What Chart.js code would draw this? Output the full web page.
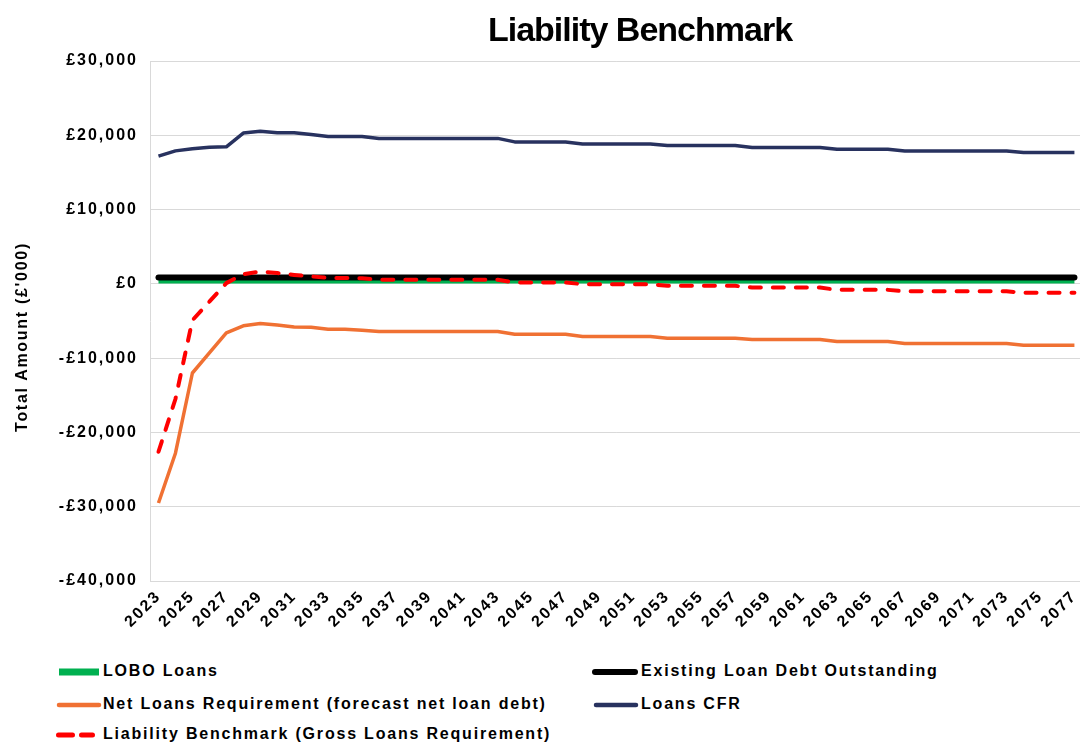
<!DOCTYPE html>
<html><head><meta charset="utf-8">
<script src="https://cdn.jsdelivr.net/npm/chart.js@4.4.1/dist/chart.umd.min.js"></script>
<style>
html,body{margin:0;padding:0;background:#fff;overflow:hidden;width:1080px;height:742px;}
#wrap{position:absolute;left:0;top:0;width:1094px;height:640px;}
#title{position:absolute;left:340px;width:600px;top:12px;text-align:center;font:bold 34px "Liberation Sans",Arial,sans-serif;letter-spacing:-1px;line-height:34px;color:#000;white-space:nowrap;}
#ytitle{position:absolute;left:22px;top:337px;width:260px;height:20px;margin-left:-130px;margin-top:-10px;transform:rotate(-90deg);text-align:center;font:bold 16px "Liberation Sans",Arial,sans-serif;letter-spacing:1.7px;line-height:20px;color:#000;white-space:nowrap;}
.legtxt{position:absolute;font:bold 16px "Liberation Sans",Arial,sans-serif;letter-spacing:1.8px;line-height:20px;color:#000;white-space:nowrap;}
.legsym{position:absolute;}
</style></head><body>
<div id="wrap"><canvas id="c"></canvas></div>
<div id="title">Liability Benchmark</div>
<div id="ytitle">Total Amount (£'000)</div>
<div id="legend"></div>
<script>
const years = ['2023','2024','2025','2026','2027','2028','2029','2030','2031','2032','2033','2034','2035','2036','2037','2038','2039','2040','2041','2042','2043','2044','2045','2046','2047','2048','2049','2050','2051','2052','2053','2054','2055','2056','2057','2058','2059','2060','2061','2062','2063','2064','2065','2066','2067','2068','2069','2070','2071','2072','2073','2074','2075','2076','2077'];

const loboLoans = [400,400,400,400,400,400,400,400,400,400,400,400,400,400,400,400,400,400,400,400,400,400,400,400,400,400,400,400,400,400,400,400,400,400,400,400,400,400,400,400,400,400,400,400,400,400,400,400,400,400,400,400,400,400,400];

const existingLoanDebt = [850,850,850,850,850,850,850,850,850,850,850,850,850,850,850,850,850,850,850,850,850,850,850,850,850,850,850,850,850,850,850,850,850,850,850,850,850,850,850,850,850,850,850,850,850,850,850,850,850,850,850,850,850,850,850];

const netLoansRequirement = [-29500,-22800,-12000,-9300,-6600,-5650,-5350,-5550,-5800,-5850,-6100,-6100,-6250,
 -6400,-6400,-6400,-6400,-6400,-6400,-6400,-6400,
 -6770,-6770,-6770,-6770,
 -7090,-7090,-7090,-7090,-7090,
 -7310,-7310,-7310,-7310,-7310,
 -7480,-7480,-7480,-7480,-7480,
 -7760,-7760,-7760,-7760,
 -8030,-8030,-8030,-8030,-8030,-8030,-8030,
 -8250,-8250,-8250,-8250];

const loansCFR = [17200,17900,18200,18400,18450,20300,20550,20350,20350,20100,19850,19850,19850,
 19580,19580,19580,19580,19580,19580,19580,19580,
 19110,19110,19110,19110,
 18840,18840,18840,18840,18840,
 18620,18620,18620,18620,18620,
 18350,18350,18350,18350,18350,
 18130,18130,18130,18130,
 17900,17900,17900,17900,17900,17900,17900,
 17670,17670,17670,17670];

const liabilityBenchmark = [-22600,-15500,-4900,-2400,100,1300,1650,1450,1200,1000,800,800,750,
 550,550,550,550,550,550,550,550,
 180,180,180,180,
 -40,-40,-40,-40,-40,
 -270,-270,-270,-270,-270,
 -490,-490,-490,-490,-490,
 -810,-810,-810,-810,
 -990,-990,-990,-990,-990,-990,-990,
 -1210,-1210,-1210,-1210];

const yTicks = {min:-40000, max:30000, step:10000};
const FONT = '"Liberation Sans", Arial, sans-serif';

const spacingPlugin = {
  id:'spacing',
  beforeUpdate(c){ c.ctx.letterSpacing = '2px'; },
  beforeLayout(c){ c.ctx.letterSpacing = '2px'; },
  beforeDraw(c){ c.ctx.letterSpacing = '2px'; }
};

const datasets = [
  {label:'LOBO Loans', data:loboLoans, borderColor:'#00B050', borderWidth:5, order:3, legend:{x:57,y:672,col:0}},
  {label:'Existing Loan Debt Outstanding', data:existingLoanDebt, borderColor:'#000000', borderWidth:6, order:2, borderCapStyle:'round', legend:{x:592,y:672,col:1}},
  {label:'Net Loans Requirement (forecast net loan debt)', data:netLoansRequirement, borderColor:'#F07133', borderWidth:3.5, order:2, legend:{x:56,y:705,col:0}},
  {label:'Loans CFR', data:loansCFR, borderColor:'#28325F', borderWidth:3.5, order:2, legend:{x:593,y:705,col:1}},
  {label:'Liability Benchmark (Gross Loans Requirement)', data:liabilityBenchmark, borderColor:'#FF0000', borderWidth:4, borderDash:[11,12], borderCapStyle:'round', order:0, legend:{x:56,y:735,col:0}}
];

const chart = new Chart(document.getElementById('c'), {
  type:'line',
  data:{ labels:years, datasets: datasets.map(d => ({
    label:d.label, data:d.data, borderColor:d.borderColor, backgroundColor:d.borderColor,
    borderWidth:d.borderWidth, borderDash:d.borderDash||[], borderCapStyle:d.borderCapStyle||'butt',
    borderJoinStyle:'round', pointRadius:0, pointHoverRadius:0, tension:0, fill:false, order:d.order
  }))},
  options:{
    responsive:true, maintainAspectRatio:false, animation:false,
    layout:{padding:{left:10, top:61, right:0, bottom:0}},
    plugins:{legend:{display:false}, tooltip:{enabled:false}, title:{display:false}},
    scales:{
      x:{
        offset:true,
        grid:{display:false, drawTicks:false},
        border:{display:true, color:'#d9d9d9', width:1},
        ticks:{autoSkip:false, maxRotation:45, minRotation:45, padding:6, color:'#000',
          font:{family:FONT, size:16, weight:'bold'},
          callback(v,i){ return i % 2 === 0 ? this.getLabelForValue(v) : ''; }},
        afterFit(s){ s.height = 59; }
      },
      y:{
        min:yTicks.min, max:yTicks.max,
        ticks:{stepSize:yTicks.step, padding:12, color:'#000', font:{family:FONT, size:16, weight:'bold'},
          callback:v => (v < 0 ? '-' : '') + '£' + Math.abs(v).toLocaleString('en-GB')},
        grid:{color:'#d9d9d9', lineWidth:1, drawTicks:false},
        border:{display:true, color:'#d9d9d9', width:1},
        title:{display:false},
        afterFit(s){ s.width = 140; }
      }
    }
  },
  plugins:[spacingPlugin]
});

// HTML legend generated from the datasets
const leg = document.getElementById('legend');
datasets.forEach(d => {
  const L = d.legend;
  const svgNS = 'http://www.w3.org/2000/svg';
  const svg = document.createElementNS(svgNS,'svg');
  svg.setAttribute('width','48'); svg.setAttribute('height','12');
  svg.setAttribute('class','legsym');
  svg.style.left = L.x + 'px'; svg.style.top = (L.y - 6) + 'px';
  const ln = document.createElementNS(svgNS,'line');
  ln.setAttribute('stroke', d.borderColor);
  ln.setAttribute('stroke-width', d.label==='LOBO Loans' ? 7 : (d.borderWidth >= 5 ? 6 : (d.borderDash ? 5 : 4.5)));
  ln.setAttribute('y1','6'); ln.setAttribute('y2','6');
  if (d.borderDash) {
    ln.setAttribute('x1','2.5'); ln.setAttribute('x2','36.5');
    ln.setAttribute('stroke-dasharray','14 9'); ln.setAttribute('stroke-linecap','round');
  } else if (d.label==='LOBO Loans') {
    ln.setAttribute('x1','2'); ln.setAttribute('x2','42');
  } else {
    ln.setAttribute('x1','3'); ln.setAttribute('x2','43'); ln.setAttribute('stroke-linecap','round');
  }
  svg.appendChild(ln);
  leg.appendChild(svg);
  const t = document.createElement('div');
  t.className = 'legtxt';
  t.textContent = d.label;
  t.style.left = (L.col === 0 ? 103 : 641) + 'px';
  t.style.top = (L.y - 11) + 'px';
  leg.appendChild(t);
});
</script>
</body></html>
